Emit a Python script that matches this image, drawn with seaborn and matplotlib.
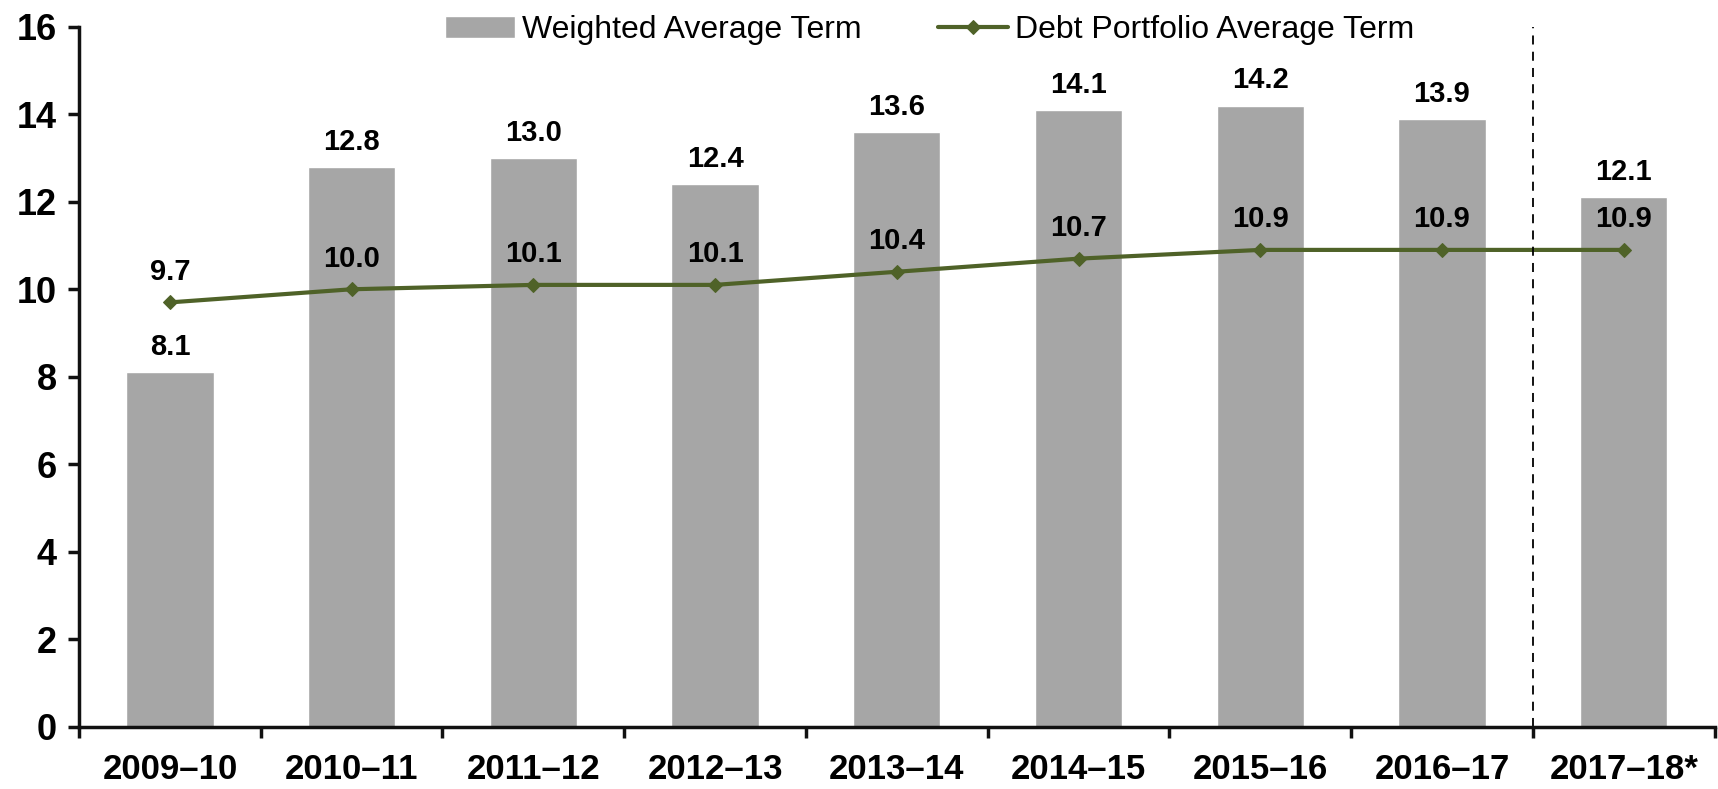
import numpy as np
import pandas as pd
import matplotlib
matplotlib.use("Agg")
import matplotlib.pyplot as plt
import seaborn as sns

years = ["2009–10", "2010–11", "2011–12", "2012–13", "2013–14",
         "2014–15", "2015–16", "2016–17", "2017–18*"]
weighted_term = [8.1, 12.8, 13.0, 12.4, 13.6, 14.1, 14.2, 13.9, 12.1]
portfolio_term = [9.7, 10.0, 10.1, 10.1, 10.4, 10.7, 10.9, 10.9, 10.9]

sns.set_style("white", {"text.color": "black", "xtick.color": "black",
                        "ytick.color": "black", "axes.labelcolor": "black"})
plt.rcParams['font.family'] = ['Liberation Sans', 'DejaVu Sans']

df = pd.DataFrame({"Year": years, "Weighted": weighted_term, "Portfolio": portfolio_term})
pos = np.arange(len(years))

fig = plt.figure(figsize=(17.18, 7.89), dpi=100)
ax = fig.add_axes([0.046, 0.079, 0.952, 0.887])

bar_color = "#A6A6A6"
line_color = "#4F6228"

sns.barplot(data=df, x="Year", y="Weighted", color=bar_color, width=0.48,
            saturation=1, ax=ax, label="Weighted Average Term")
sns.lineplot(x=pos, y=df["Portfolio"], color=line_color, lw=3, marker="D",
             markersize=7, markeredgecolor=line_color, ax=ax,
             label="Debt Portfolio Average Term")

# data labels
for i, v in enumerate(weighted_term):
    ax.annotate(f"{v:.1f}", (i, v), xytext=(0, 8), textcoords="offset points",
                ha="center", va="bottom", fontsize=21, fontweight="bold", color="black")
for i, v in enumerate(portfolio_term):
    ax.annotate(f"{v:.1f}", (i, v), xytext=(0, 12), textcoords="offset points",
                ha="center", va="bottom", fontsize=21, fontweight="bold", color="black")

ax.axvline(7.5, color="black", lw=1.3, ls=(0, (5, 4)))

ax.set_xlim(-0.5, len(years) - 0.5)
ax.set_ylim(0, 16)
ax.set_yticks(range(0, 17, 2))
ax.set_xlabel("")
ax.set_ylabel("")

for s in ["top", "right"]:
    ax.spines[s].set_visible(False)
for s in ["left", "bottom"]:
    ax.spines[s].set_linewidth(2.5)
    ax.spines[s].set_color("#111111")

ax.set_xticks(np.arange(-0.5, len(years)), minor=True)
ax.tick_params(axis="x", which="major", bottom=False, length=0, pad=19, labelsize=25)
ax.tick_params(axis="x", which="minor", bottom=True, length=8, width=2.5,
               direction="out", color="#111111")
ax.tick_params(axis="y", left=True, length=8, width=2.5, direction="out",
               color="#111111", labelsize=26, pad=8)
for lab in ax.get_xticklabels() + ax.get_yticklabels():
    lab.set_fontweight("bold")

handles, labels = ax.get_legend_handles_labels()
order = [labels.index("Weighted Average Term"), labels.index("Debt Portfolio Average Term")]
ax.legend([handles[k] for k in order], [labels[k] for k in order],
          loc="center", bbox_to_anchor=(0.52, 0.995), ncol=2, frameon=False,
          fontsize=23, handlelength=2.2, handletextpad=0.2, columnspacing=2.4)

fig.savefig("out.png", dpi=100)
